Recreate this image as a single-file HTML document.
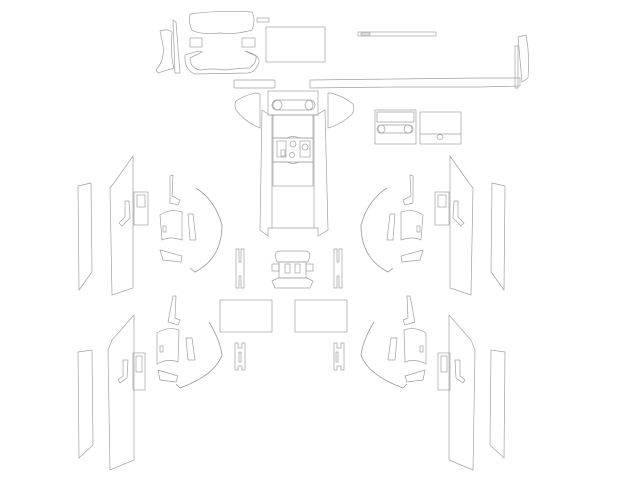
<!DOCTYPE html>
<html><head><meta charset="utf-8"><style>
html,body{margin:0;padding:0;background:#fff;width:620px;height:485px;overflow:hidden}
svg{display:block}
.s{fill:none;stroke:#a0a0a0;stroke-width:0.7}
.d{fill:none;stroke:#999;stroke-width:0.8}
</style></head><body>
<svg width="620" height="485" viewBox="0 0 620 485" xmlns="http://www.w3.org/2000/svg">
<g class="s">
<path d="M190,14 Q220,10 252,12 Q256,20 252,30 Q235,35 220,33 Q200,35 192,30 Q188,22 190,14 Z"/>
<rect x="257" y="18" width="12" height="4"/>
<rect x="266" y="27" width="59" height="35"/>
<rect x="358" y="32" width="78" height="4"/><rect x="361" y="33" width="9" height="2"/>
<path d="M160,31 Q168,28 172,32 Q170,55 174,68 L158,73 L156,70 Q165,60 163,45 Z"/>
<path d="M173,20 L176,22 L180,73 L175,73 Z"/>
<path d="M518,37 L526,35 Q530,55 528,78 L522,82 Q520,60 518,37 Z"/><path d="M515,46 L518,46 L518,88 L515,88 Z"/>
<rect x="190" y="38" width="12" height="9"/><rect x="242" y="38" width="13" height="9"/>
<path d="M185,55 Q200,50 202,52 L190,58 Q190,68 200,70 Q215,68 225,70 Q240,68 250,68 Q257,62 256,56 L245,51 Q260,55 259,62 Q256,72 248,73 L195,74 Q184,70 185,55 Z"/>
<rect x="234" y="80" width="41" height="8" rx="1"/>
<path d="M310,80 L395,79 L480,78 L520,78 L520,86 L480,87 L395,87 L310,88 Z"/>
<rect x="268" y="91" width="50" height="24"/>
<rect x="273" y="100" width="40" height="10" rx="5"/>
<circle cx="277" cy="105" r="5"/><circle cx="310" cy="105" r="5"/>
<path d="M262,110 L268,114 L268,115 L318,115 L318,114 L325,110 L328,230 L318,236 L318,228 L268,228 L268,236 L260,230 Z"/>
<path d="M272,115 L272,228 M314,115 L314,228"/>
<rect x="273" y="115" width="40" height="23"/>
<path d="M273,138 L287,138 Q293,135 299,138 L313,138 L313,162 L299,162 Q293,165 287,162 L273,162 Z"/>
<rect x="277" y="141" width="9" height="16"/><rect x="281" y="150" width="4" height="6"/>
<rect x="300" y="141" width="10" height="16"/><circle cx="305" cy="147" r="3"/>
<circle cx="293" cy="144" r="3"/><circle cx="292" cy="155" r="2.5"/>
<rect x="273" y="162" width="40" height="24"/>
<path d="M256,93 L260,94 L260,128 Q245,122 236,110 Q234,104 236,101 Q245,95 256,93 Z"/>
<path d="M328,93 L331,93 Q345,97 353,104 Q355,110 352,114 Q342,124 328,128 Z"/>
<rect x="375" y="110" width="41" height="34"/><path d="M377,112 L414,112 L414,122 L377,122 Z"/>
<rect x="378" y="125" width="35" height="8" rx="4"/><circle cx="381" cy="129" r="4"/><circle cx="408" cy="129" r="4"/>
<rect x="420" y="112" width="41" height="32"/><path d="M420,134 L461,134"/><ellipse cx="440" cy="137" rx="3" ry="2.5"/>
<path d="M236,249 L239,249 L239,262 L241,262 L241,249 L244,249 L244,288 L241,288 L241,276 L239,276 L239,288 L236,288 Z"/>
<path d="M334,249 L337,249 L337,262 L339,262 L339,249 L342,249 L342,288 L339,288 L339,276 L337,276 L337,288 L334,288 Z"/>
<path d="M275,256 Q275,251 280,251 L305,251 Q310,251 310,256 L308,262 L277,262 Z"/>
<rect x="279" y="262" width="27" height="16"/><rect x="272" y="264" width="7" height="7"/><rect x="306" y="264" width="7" height="7"/>
<rect x="285" y="264" width="5" height="9"/><rect x="295" y="264" width="5" height="9"/>
<path d="M272,281 L278,278 L307,278 L313,281 L310,288 L275,288 Z"/>
<rect x="220" y="300" width="52" height="32"/><rect x="295" y="300" width="52" height="32"/>
<path d="M235,343 L238,343 L238,348 L242,348 L242,343 L245,343 L245,370 L242,370 L242,366 L238,366 L238,370 L235,370 Z"/><rect x="239" y="352" width="2" height="10"/>
<path d="M334,343 L337,343 L337,348 L341,348 L341,343 L344,343 L344,370 L341,370 L341,366 L337,366 L337,370 L334,370 Z"/><rect x="336" y="352" width="2" height="10"/>
</g>
<g id="L" class="s">
<path d="M78,186 L91,183 L92,272 L79,290 Z"/>
<path d="M110,188 L114,183 L133,156 L133,288 L112,295 Q111,240 110,188 Z"/>
<rect x="134" y="192" width="14" height="33"/><rect x="137" y="195" width="8" height="12"/>
<path d="M125,201 L129,201 L130,218 L122,226 L119,223 L125,217 Z"/>
<path d="M170,176 L173,175 L172,196 L180,200 L178,205 L170,203 Z"/>
<path d="M160,215 Q170,208 182,212 L182,240 Q170,236 162,240 Z"/><rect x="163" y="226" width="3" height="6"/>
<path d="M188,214 L193,214 L196,240 L190,240 Z"/>
<path d="M160,250 L182,256 L181,262 L163,260 Z"/>
<path class="d" d="M196,188 Q215,200 222,225 Q222,258 195,272 L190,268"/>
<path d="M78,352 L92,350 L93,445 L79,458 Z"/>
<path d="M108,350 L112,340 L134,315 L134,460 L110,470 Z"/>
<rect x="133" y="353" width="12" height="37"/><rect x="136" y="356" width="6" height="16"/>
<path d="M123,360 L128,360 L127,378 L120,383 L118,380 L123,376 Z"/>
<path d="M173,296 L176,296 L175,318 L180,320 L178,325 L168,322 Z"/>
<path d="M157,333 Q168,326 179,330 L178,362 Q168,358 157,364 Z"/><rect x="160" y="346" width="3" height="6"/>
<path d="M186,338 L192,338 L195,360 L188,360 Z"/>
<path d="M158,370 L178,376 L176,382 L160,380 Z"/>
<path class="d" d="M209,322 Q220,340 222,355 Q215,375 180,388 L176,384"/>
</g>
<use href="#L" transform="matrix(-1,0,0,1,583,0)"/>
</svg>
</body></html>
